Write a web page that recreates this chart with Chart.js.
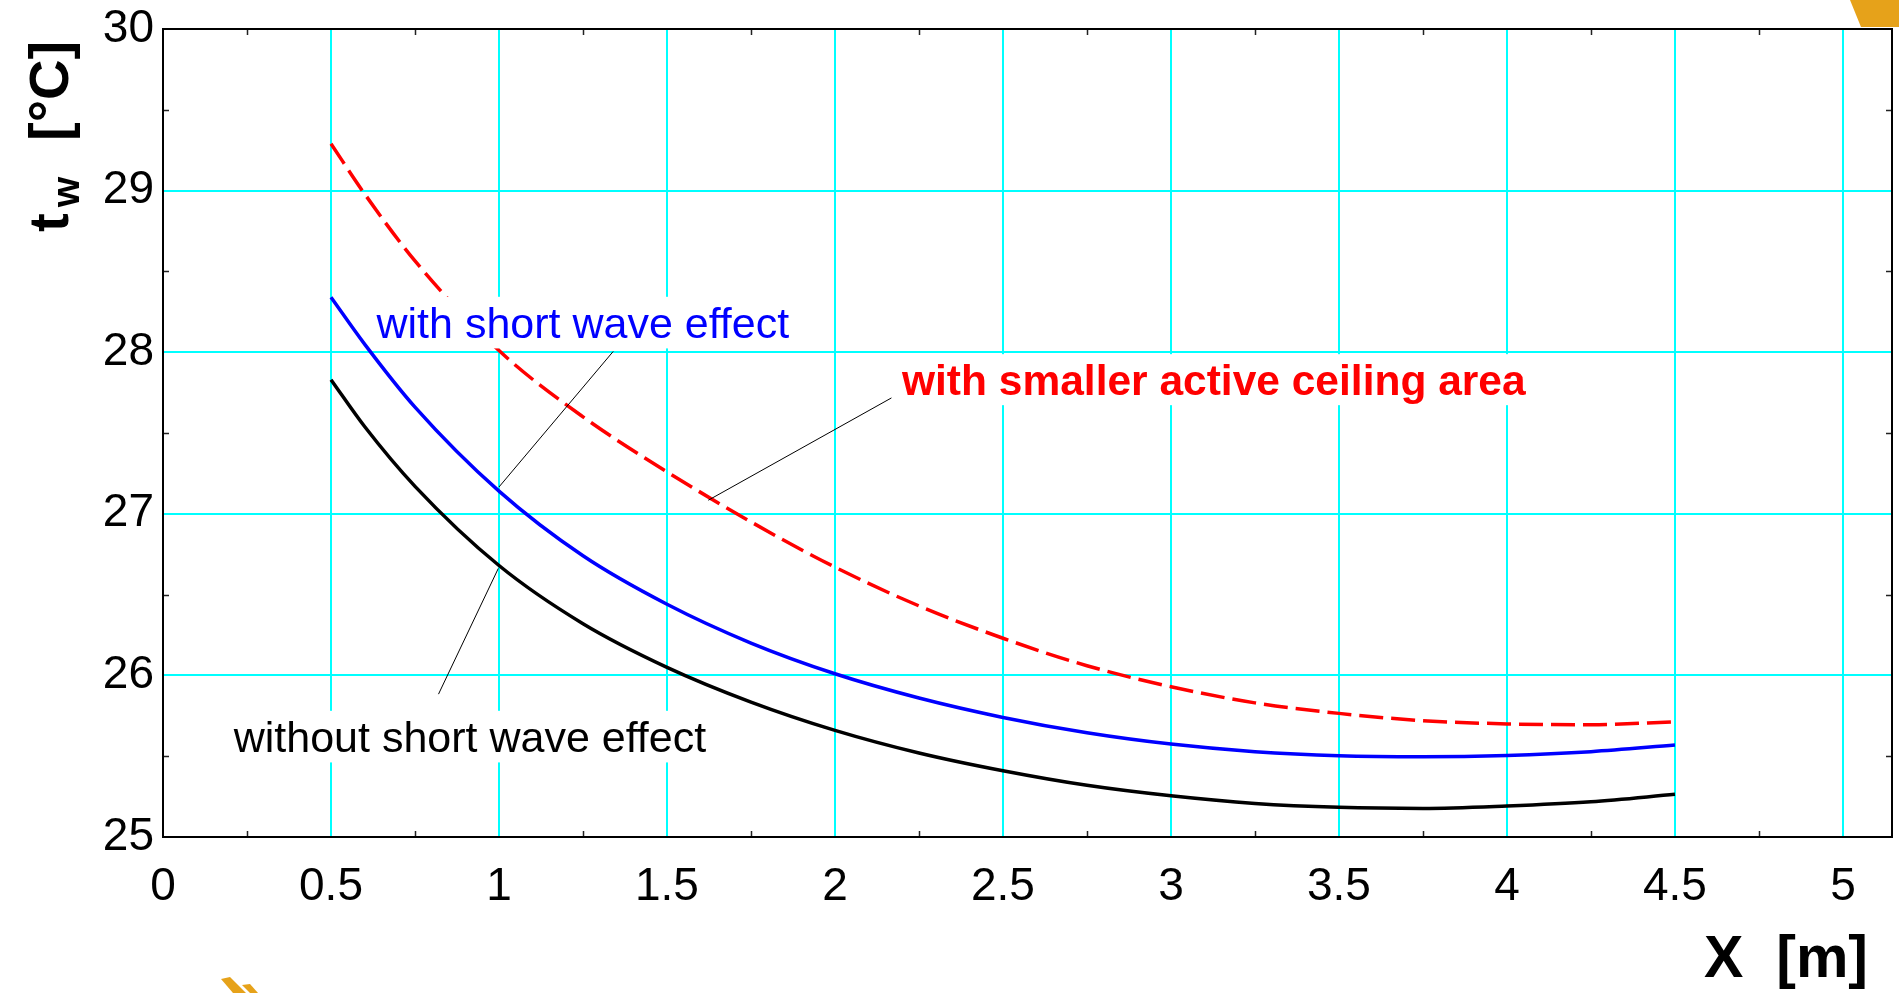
<!DOCTYPE html>
<html>
<head>
<meta charset="utf-8">
<title>tw over X</title>
<script src="https://cdn.jsdelivr.net/npm/chart.js@4.4.1/dist/chart.umd.min.js"></script>
<style>
  html, body { margin: 0; padding: 0; background: #fff; }
  canvas { display: block; }
</style>
</head>
<body>
<canvas id="myChart" width="1899" height="993"></canvas>
<script>
// values
const xValues = [0.5, 0.6, 0.75, 1, 1.25, 1.5, 1.75, 2, 2.25, 2.5, 2.75, 3, 3.25, 3.5, 3.75, 4, 4.25, 4.5];
const withoutShortWave = [27.83, 27.54, 27.17, 26.68, 26.32, 26.05, 25.835, 25.66, 25.52, 25.41, 25.32, 25.255, 25.208, 25.184, 25.177, 25.192, 25.218, 25.264];
const withShortWave = [28.34, 28.05, 27.66, 27.14, 26.74, 26.44, 26.20, 26.01, 25.86, 25.74, 25.645, 25.575, 25.528, 25.503, 25.497, 25.505, 25.528, 25.569];
const smallerCeiling = [29.29, 28.98, 28.565, 28.01, 27.60, 27.26, 26.95, 26.67, 26.43, 26.23, 26.06, 25.93, 25.83, 25.765, 25.72, 25.70, 25.695, 25.713];

const xTicks = [0, 0.5, 1, 1.5, 2, 2.5, 3, 3.5, 4, 4.5, 5];
const yTicks = [25, 26, 27, 28, 29, 30];
const xMinorTicks = [0.25, 0.75, 1.25, 1.75, 2.25, 2.75, 3.25, 3.75, 4.25, 4.75];
const yMinorTicks = [25.5, 26.5, 27.5, 28.5, 29.5];

const FONT = '"Liberation Sans", Arial, sans-serif';
const cyan = '#00ffff';

// curve labels with their leader lines (data coordinates)
const notes = [
    { text: 'with short wave effect', color: '#0000ff', bold: false, size: 43, x: 0.6354, y: 28.09, line: [[1.340, 28.005], [1.0, 27.166]] },
    { text: 'with smaller active ceiling area', color: '#ff0000', bold: true, size: 42.5, x: 2.1994, y: 27.738, line: [[2.168, 27.717], [1.623, 27.084]] },
    { text: 'without short wave effect', color: '#000000', bold: false, size: 43, x: 0.2104, y: 25.528, line: [[0.82, 25.884], [0.998, 26.662]] }
];

function toPoints(arr) {
    return xValues.map((x, i) => ({ x: x, y: arr[i] }));
}

const framePlugin = {
    id: 'frame',
    afterDatasetsDraw(chart) {
        const c = chart.ctx;
        const xs = chart.scales.x;
        const ys = chart.scales.y;

        notes.forEach(n => {
            c.save();
            c.font = (n.bold ? 'bold ' : '') + n.size + 'px ' + FONT;
            const px = xs.getPixelForValue(n.x);
            const py = ys.getPixelForValue(n.y);
            const w = c.measureText(n.text).width;
            c.fillStyle = '#fff';
            c.fillRect(px - 5, py - n.size * 0.95, w + 10, n.size * 1.2);

            c.strokeStyle = '#000';
            c.lineWidth = 1;
            c.beginPath();
            c.moveTo(xs.getPixelForValue(n.line[0][0]), ys.getPixelForValue(n.line[0][1]));
            c.lineTo(xs.getPixelForValue(n.line[1][0]), ys.getPixelForValue(n.line[1][1]));
            c.stroke();

            c.fillStyle = n.color;
            c.textAlign = 'left';
            c.textBaseline = 'alphabetic';
            c.fillText(n.text, px, py);
            c.restore();
        });
    },
    afterDraw(chart) {
        const c = chart.ctx;
        const a = chart.chartArea;
        const xs = chart.scales.x;
        const ys = chart.scales.y;
        c.save();

        // minor ticks on all four sides
        c.strokeStyle = '#222';
        c.lineWidth = 1.5;
        c.beginPath();
        xMinorTicks.forEach(v => {
            const p = Math.round(xs.getPixelForValue(v)) + 0.5;
            c.moveTo(p, a.bottom); c.lineTo(p, a.bottom - 6);
            c.moveTo(p, a.top); c.lineTo(p, a.top + 6);
        });
        yMinorTicks.forEach(v => {
            const p = Math.round(ys.getPixelForValue(v)) + 0.5;
            c.moveTo(a.left, p); c.lineTo(a.left + 6, p);
            c.moveTo(a.right, p); c.lineTo(a.right - 6, p);
        });
        c.stroke();

        c.strokeStyle = '#000';
        c.lineWidth = 2;
        c.strokeRect(a.left, a.top, a.right - a.left, a.bottom - a.top);

        // axis titles
        c.fillStyle = '#000';
        c.textBaseline = 'alphabetic';
        c.textAlign = 'right';
        c.font = 'bold 59px ' + FONT;
        c.fillText('X  [m]', 1868, 976.7);

        c.translate(67.5, 232);
        c.rotate(-Math.PI / 2);
        c.textAlign = 'left';
        c.font = 'bold 56px ' + FONT;
        c.fillText('t', 0, 0);
        const tw = c.measureText('t').width;
        c.font = 'bold 39px ' + FONT;
        c.fillText('w', tw + 6, 11);
        c.font = 'bold 56px ' + FONT;
        c.fillText('[°C]', 91, 0);
        c.restore();

        // orange bits of the slide background
        c.save();
        c.fillStyle = '#e6a21a';
        c.beginPath();
        c.moveTo(1850, 0); c.lineTo(1899, 0); c.lineTo(1899, 27); c.lineTo(1861, 27);
        c.closePath();
        c.fill();
        c.beginPath();
        c.moveTo(221, 979); c.lineTo(230, 977); c.lineTo(246, 993); c.lineTo(233, 993);
        c.closePath();
        c.fill();
        c.beginPath();
        c.moveTo(242, 985); c.lineTo(250, 984); c.lineTo(258, 993); c.lineTo(250, 993);
        c.closePath();
        c.fill();
        c.restore();
    }
};

const ctx = document.getElementById('myChart');

const dataChart = new Chart(ctx, {
    type: 'line',
    data: {
        datasets: [
            {
                label: 'without short wave effect',
                data: toPoints(withoutShortWave),
                borderColor: '#000000',
                borderWidth: 3.5,
                cubicInterpolationMode: 'monotone'
            },
            {
                label: 'with short wave effect',
                data: toPoints(withShortWave),
                borderColor: '#0000ff',
                borderWidth: 3.5,
                cubicInterpolationMode: 'monotone'
            },
            {
                label: 'with smaller active ceiling area',
                data: toPoints(smallerCeiling),
                borderColor: '#ff0000',
                borderWidth: 3.5,
                borderDash: [24, 8],
                cubicInterpolationMode: 'monotone'
            }
        ]
    },
    options: {
        responsive: false,
        animation: false,
        layout: { padding: { left: 0, top: 29, right: 7, bottom: 0 } },
        elements: { point: { radius: 0 } },
        plugins: {
            legend: { display: false },
            tooltip: { enabled: false }
        },
        scales: {
            x: {
                type: 'linear',
                min: 0,
                max: 5.146,
                afterBuildTicks: s => { s.ticks = xTicks.map(v => ({ value: v })); },
                afterFit: s => { s.height = 156; },
                border: { display: false },
                grid: {
                    color: c => (c.tick && c.tick.value === 0) ? 'rgba(0,0,0,0)' : cyan,
                    lineWidth: 2,
                    drawTicks: false
                },
                ticks: {
                    color: '#000',
                    padding: 23,
                    maxRotation: 0,
                    font: { family: FONT, size: 46 },
                    callback: v => String(v)
                }
            },
            y: {
                type: 'linear',
                min: 25,
                max: 30,
                afterBuildTicks: s => { s.ticks = yTicks.map(v => ({ value: v })); },
                afterFit: s => { s.width = 163; },
                border: { display: false },
                grid: {
                    color: c => (c.tick && (c.tick.value === 25 || c.tick.value === 30)) ? 'rgba(0,0,0,0)' : cyan,
                    lineWidth: 2,
                    drawTicks: false
                },
                ticks: {
                    color: '#000',
                    padding: 9,
                    font: { family: FONT, size: 46, lineHeight: 0.8 },
                    callback: v => String(v)
                }
            }
        }
    },
    plugins: [framePlugin]
});
</script>
</body>
</html>
